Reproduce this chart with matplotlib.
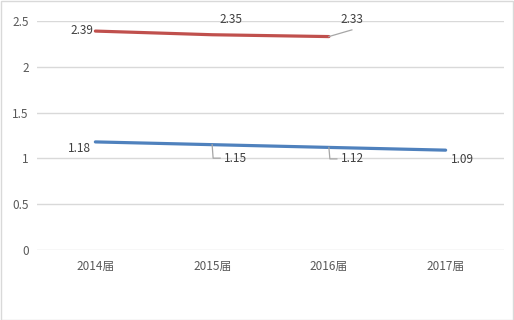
import matplotlib
matplotlib.use("Agg")
import matplotlib.pyplot as plt
from matplotlib.lines import Line2D
from matplotlib.patches import Rectangle
from matplotlib.transforms import IdentityTransform

plt.rcParams['font.family'] = ['Noto Sans CJK SC', 'DejaVu Sans']

categories = ["2014届", "2015届", "2016届", "2017届"]
red_values = [2.39, 2.35, 2.33]
blue_values = [1.18, 1.15, 1.12, 1.09]
y_ticks = [0, 0.5, 1, 1.5, 2, 2.5]
y_tick_labels = ["0", "0.5", "1", "1.5", "2", "2.5"]

RED = "#c0504d"
BLUE = "#4f81bd"
GRID = "#d9d9d9"
TXT = "#404040"
TICK = "#595959"
FS = 8.5

W, H = 514, 320
fig = plt.figure(figsize=(W / 100, H / 100), dpi=100)
ax = fig.add_axes([37 / W, 1 - 250 / H, (504 - 37) / W, (250 - 21) / H])

x_blue = list(range(len(blue_values)))
x_red = list(range(len(red_values)))
ax.plot(x_blue, blue_values, color=BLUE, lw=2.3, solid_capstyle='round', zorder=3)
ax.plot(x_red, red_values, color=RED, lw=2.3, solid_capstyle='round', zorder=3)

ax.set_xlim(-0.5, len(categories) - 0.5)
ax.set_ylim(0, 2.5)
ax.set_yticks(y_ticks)
ax.set_yticklabels(y_tick_labels)
ax.set_xticks(range(len(categories)))
ax.set_xticklabels(categories)
ax.grid(axis='y', color=GRID, lw=1)
ax.set_axisbelow(True)
for s in ax.spines.values():
    s.set_visible(False)
ax.tick_params(axis='both', length=0, labelsize=FS, labelcolor=TICK)
ax.tick_params(axis='y', pad=6)
ax.tick_params(axis='x', pad=7)

# data labels: (dx, dy) in pixels, image-style y-down converted
def label(x, y, txt, dx, dy, ha='center', leader=None):
    ax.annotate(txt, (x, y), xytext=(dx, -dy), textcoords='offset pixels',
                ha=ha, va='center', fontsize=FS, color=TXT, zorder=4)
    if leader:
        px, py = ax.transData.transform((x, y))
        xs = [px + lx for lx, ly in leader]
        ys = [py - ly for lx, ly in leader]
        fig.add_artist(Line2D(xs, ys, transform=IdentityTransform(),
                              color="#a6a6a6", lw=0.9, zorder=2))

red_offsets = [(-2, -1, 'right', None),
               (19, -15, 'center', None),
               (23, -17.5, 'center', [(0, 0), (23, -6.7)])]
blue_offsets = [(-16, 7, 'center', None),
                (12, 13.5, 'left', [(0, 0), (1, 13.5), (8, 13.5)]),
                (12, 11.5, 'left', [(0, 0), (1, 11.5), (8, 11.5)]),
                (5, 9, 'left', None)]

for i, v in enumerate(red_values):
    dx, dy, ha, ld = red_offsets[i]
    label(i, v, f"{v:.2f}", dx, dy, ha, ld)
for i, v in enumerate(blue_values):
    dx, dy, ha, ld = blue_offsets[i]
    label(i, v, f"{v:.2f}", dx, dy, ha, ld)

fig.add_artist(Rectangle((0.5 / W, 0.5 / H), 1 - 1.5 / W, 1 - 1.5 / H,
                         transform=fig.transFigure, fill=False,
                         edgecolor=GRID, lw=1))

fig.savefig("out.png", dpi=100, facecolor="white")
